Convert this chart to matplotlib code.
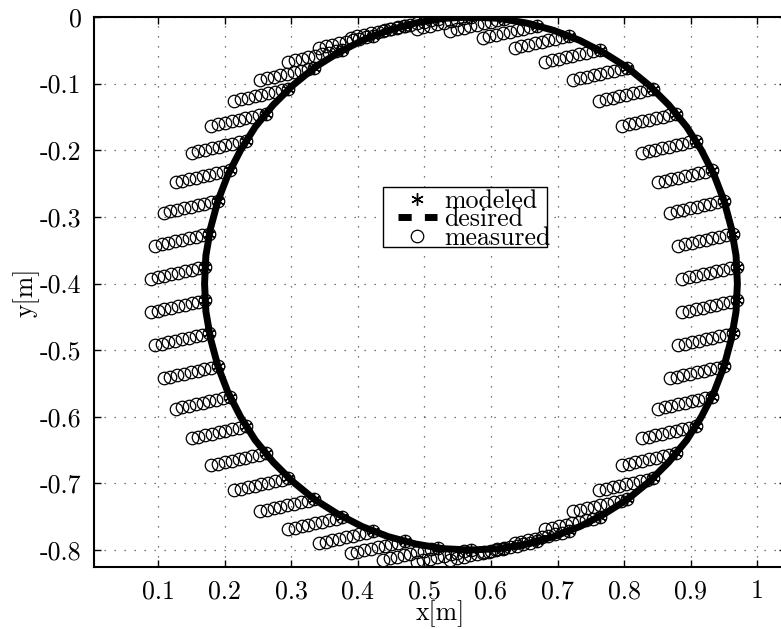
import numpy as np
import matplotlib
matplotlib.use('Agg')
import matplotlib.pyplot as plt
from matplotlib.patches import Rectangle

# modeled points (stars)
modeled_x = [0.570, 0.620, 0.669, 0.717, 0.763, 0.805, 0.844, 0.878, 0.908, 0.932,
             0.950, 0.963, 0.969, 0.969, 0.963, 0.950, 0.932, 0.908, 0.878, 0.844,
             0.805, 0.763, 0.717, 0.669, 0.620, 0.570, 0.520, 0.471, 0.423, 0.377,
             0.335, 0.296, 0.262, 0.232, 0.208, 0.190, 0.177, 0.171, 0.171, 0.177,
             0.190, 0.208, 0.232, 0.262, 0.296, 0.335, 0.377, 0.423, 0.471, 0.520]
modeled_y = [0.000, -0.003, -0.013, -0.028, -0.049, -0.076, -0.108, -0.145, -0.186, -0.230,
             -0.276, -0.325, -0.375, -0.425, -0.475, -0.524, -0.570, -0.614, -0.655, -0.692,
             -0.724, -0.751, -0.772, -0.787, -0.797, -0.800, -0.797, -0.787, -0.772, -0.751,
             -0.724, -0.692, -0.655, -0.614, -0.570, -0.524, -0.475, -0.425, -0.375, -0.325,
             -0.276, -0.230, -0.186, -0.145, -0.108, -0.076, -0.049, -0.028, -0.013, -0.003]

# desired path
desired_x = [0.570, 0.612, 0.653, 0.694, 0.733, 0.770, 0.805, 0.838, 0.867, 0.894,
             0.916, 0.935, 0.950, 0.961, 0.968, 0.970, 0.968, 0.961, 0.950, 0.935,
             0.916, 0.894, 0.867, 0.838, 0.805, 0.770, 0.733, 0.694, 0.653, 0.612,
             0.570, 0.528, 0.487, 0.446, 0.407, 0.370, 0.335, 0.302, 0.273, 0.246,
             0.224, 0.205, 0.190, 0.179, 0.172, 0.170, 0.172, 0.179, 0.190, 0.205,
             0.224, 0.246, 0.273, 0.302, 0.335, 0.370, 0.407, 0.446, 0.487, 0.528, 0.570]
desired_y = [0.000, -0.002, -0.009, -0.020, -0.035, -0.054, -0.076, -0.103, -0.132, -0.165,
             -0.200, -0.237, -0.276, -0.317, -0.358, -0.400, -0.442, -0.483, -0.524, -0.563,
             -0.600, -0.635, -0.668, -0.697, -0.724, -0.746, -0.765, -0.780, -0.791, -0.798,
             -0.800, -0.798, -0.791, -0.780, -0.765, -0.746, -0.724, -0.697, -0.668, -0.635,
             -0.600, -0.563, -0.524, -0.483, -0.442, -0.400, -0.358, -0.317, -0.276, -0.237,
             -0.200, -0.165, -0.132, -0.103, -0.076, -0.054, -0.035, -0.020, -0.009, -0.002, 0.000]

# offsets of the measured samples from each modeled point
off_x = [0.0, -0.0102, -0.0204, -0.0306, -0.0408, -0.051, -0.0612, -0.0714, -0.0816]
off_y = [0.0, -0.0022, -0.0045, -0.0067, -0.009, -0.0112, -0.0135, -0.0157, -0.018]

xticks = [0.1, 0.2, 0.3, 0.4, 0.5, 0.6, 0.7, 0.8, 0.9, 1.0]
xlabels = ['0.1', '0.2', '0.3', '0.4', '0.5', '0.6', '0.7', '0.8', '0.9', '1']
yticks = [0, -0.1, -0.2, -0.3, -0.4, -0.5, -0.6, -0.7, -0.8]
ylabels = ['0', '-0.1', '-0.2', '-0.3', '-0.4', '-0.5', '-0.6', '-0.7', '-0.8']

plt.rcParams['font.family'] = 'cmr10'
plt.rcParams['axes.unicode_minus'] = False
plt.rcParams['axes.formatter.use_mathtext'] = True
fs = 18.6

W, H = 781, 629
fig = plt.figure(figsize=(W/100., H/100.), dpi=100)
ax = fig.add_axes([94./W, 1-567./H, 692./W, 550./H])

mx = np.array(modeled_x)
my = np.array(modeled_y)
meas_x = np.concatenate([mx + dx for dx in off_x])
meas_y = np.concatenate([my + dy for dy in off_y])

ax.plot(mx, my, ls='none', marker=(6, 2, 0), ms=9, mew=1.0, color='k', label='modeled')
ax.plot(desired_x, desired_y, '-', lw=5, color='k', label='desired')
ax.plot(meas_x, meas_y, ls='none', marker='o', ms=9, mfc='none', mec='k', mew=0.9, label='measured')

ax.set_xlim(0.004, 1.043)
ax.set_ylim(-0.8255, 0)
ax.set_xticks(xticks)
ax.set_xticklabels(xlabels, fontsize=fs)
ax.set_yticks(yticks)
ax.set_yticklabels(ylabels, fontsize=fs)
ax.tick_params(direction='in', length=5, width=1, top=True, right=True, pad=9)
ax.grid(True, color='0.3', lw=0.9, ls=(0, (1, 7)))
for s in ax.spines.values():
    s.set_linewidth(1.5)
ax.set_xlabel('x[m]', fontsize=fs, labelpad=-2)
ax.set_ylabel('y[m]', fontsize=fs, labelpad=0)

# legend: tight rows, frame drawn separately so "measured" runs over it like the original
leg = ax.legend(loc='upper left', bbox_to_anchor=(398./W, 1-189./H), bbox_transform=fig.transFigure,
                fontsize=fs, frameon=False, borderpad=0, borderaxespad=0, handlelength=1.5,
                handletextpad=0.3, labelspacing=-0.2)
leg.legend_handles[1].set_linestyle((0, (1.9, 1.9)))
leg.set_zorder(10)
box = Rectangle((383./W, 1-247./H), 164./W, 60./H, transform=fig.transFigure,
                fc='white', ec='k', lw=1.0, zorder=9)
ax.add_artist(box)

fig.savefig('out.png', dpi=100)
